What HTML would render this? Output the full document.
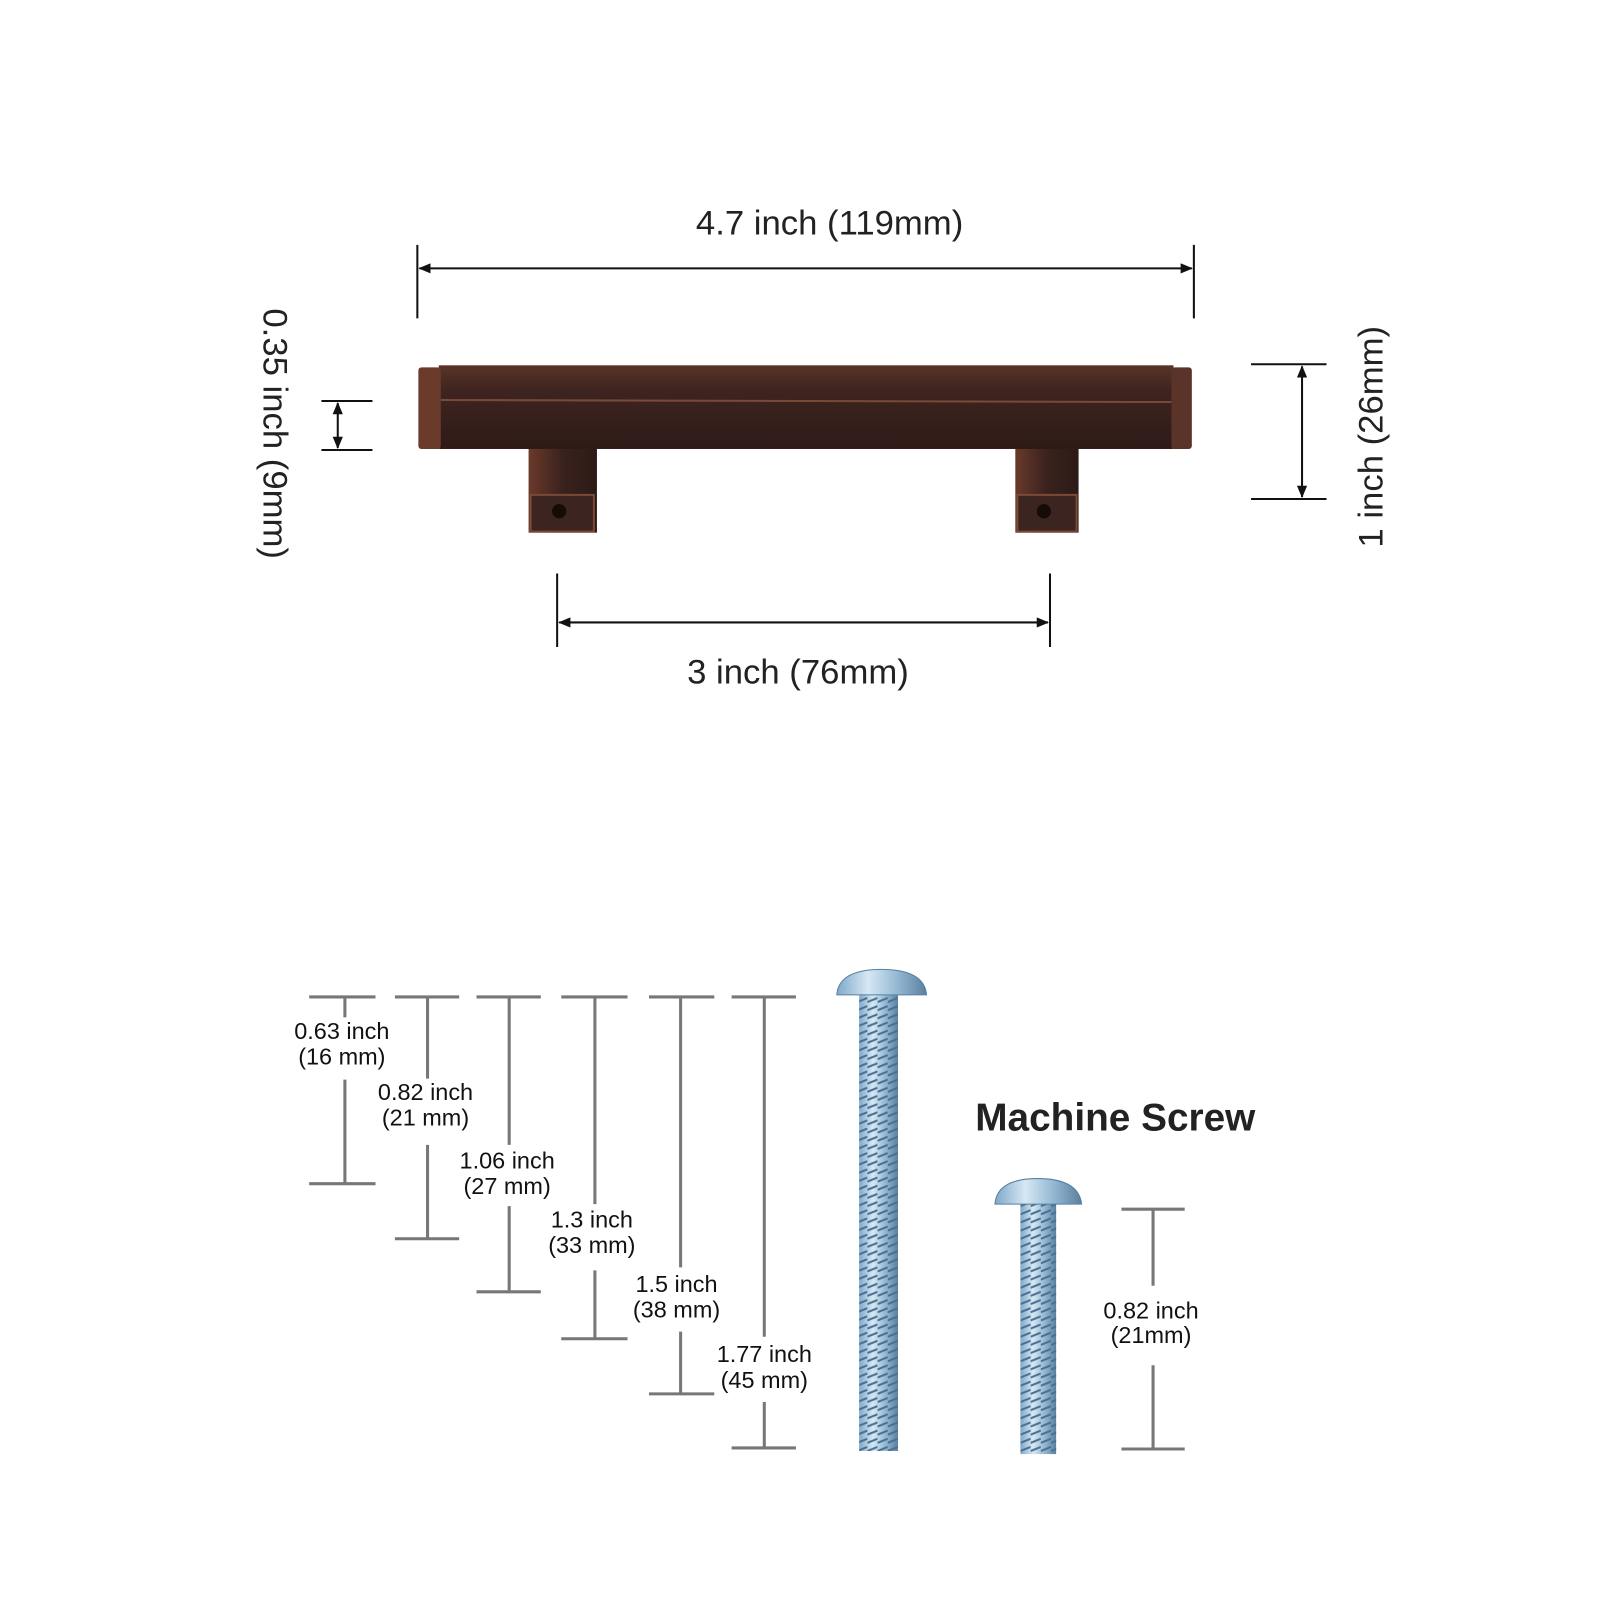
<!DOCTYPE html>
<html><head><meta charset="utf-8"><style>
html,body{margin:0;padding:0;background:#fff;}
svg{display:block;}
text{font-family:"Liberation Sans","DejaVu Sans",sans-serif;}
</style></head><body>
<svg width="1600" height="1600" viewBox="0 0 1568 1568" xmlns="http://www.w3.org/2000/svg">
<defs>
<linearGradient id="br" x1="0" y1="0" x2="0" y2="1">
<stop offset="0" stop-color="#5a3428"/><stop offset="0.3" stop-color="#3e2420"/><stop offset="1" stop-color="#2e1a17"/></linearGradient>
<linearGradient id="leg" x1="0" y1="0" x2="1" y2="0">
<stop offset="0" stop-color="#6a3a2a"/><stop offset="0.5" stop-color="#3a221e"/><stop offset="1" stop-color="#2c1a17"/></linearGradient>
<linearGradient id="zn" x1="0" y1="0" x2="1" y2="0">
<stop offset="0" stop-color="#7fa8c8"/><stop offset="0.35" stop-color="#d6e8f4"/><stop offset="0.7" stop-color="#8fb4d0"/><stop offset="1" stop-color="#5a80a0"/></linearGradient>
<pattern id="thr" width="10" height="8" patternUnits="userSpaceOnUse">
<rect width="10" height="8" fill="none"/><path d="M0 6 L10 2" stroke="#4a6f8f" stroke-width="2"/></pattern>
<marker id="ah" markerWidth="12" markerHeight="10" refX="11" refY="5" orient="auto-start-reverse" markerUnits="userSpaceOnUse">
<path d="M0 0 L12 5 L0 10 Z" fill="#111"/></marker>
</defs>

<!-- top dims -->
<line x1="409" y1="240" x2="409" y2="312" stroke="#111" stroke-width="2"/>
<line x1="1170" y1="240" x2="1170" y2="312" stroke="#111" stroke-width="2"/>
<line x1="411" y1="263" x2="1168" y2="263" stroke="#111" stroke-width="2" marker-start="url(#ah)" marker-end="url(#ah)"/>
<text x="813" y="230" font-size="34" text-anchor="middle" fill="#222">4.7 inch (119mm)</text>

<line x1="546" y1="562" x2="546" y2="634" stroke="#111" stroke-width="2"/>
<line x1="1029" y1="562" x2="1029" y2="634" stroke="#111" stroke-width="2"/>
<line x1="548" y1="610" x2="1027" y2="610" stroke="#111" stroke-width="2" marker-start="url(#ah)" marker-end="url(#ah)"/>
<text x="782" y="670" font-size="34" text-anchor="middle" fill="#222">3 inch (76mm)</text>

<line x1="1226" y1="357" x2="1300" y2="357" stroke="#111" stroke-width="2"/>
<line x1="1226" y1="489" x2="1300" y2="489" stroke="#111" stroke-width="2"/>
<line x1="1276" y1="359" x2="1276" y2="487" stroke="#111" stroke-width="2" marker-start="url(#ah)" marker-end="url(#ah)"/>
<text transform="translate(1355,428) rotate(-90)" font-size="34" text-anchor="middle" fill="#222">1 inch (26mm)</text>

<line x1="315" y1="393" x2="365" y2="393" stroke="#111" stroke-width="2"/>
<line x1="315" y1="441" x2="365" y2="441" stroke="#111" stroke-width="2"/>
<line x1="331" y1="395" x2="331" y2="439" stroke="#111" stroke-width="2" marker-start="url(#ah)" marker-end="url(#ah)"/>
<text transform="translate(258,425) rotate(90)" font-size="34" text-anchor="middle" fill="#222">0.35 inch (9mm)</text>

<!-- handle -->
<rect x="518" y="400" width="67" height="122" fill="url(#leg)"/>
<rect x="995" y="400" width="62" height="122" fill="url(#leg)"/>
<rect x="520" y="485" width="62" height="36" fill="#3c2420" stroke="#7a4a34" stroke-width="2"/>
<rect x="997" y="485" width="58" height="36" fill="#3c2420" stroke="#7a4a34" stroke-width="2"/>
<circle cx="548" cy="501" r="7" fill="#150c0a"/>
<circle cx="1023" cy="501" r="7" fill="#150c0a"/>
<rect x="430" y="358" width="720" height="82" fill="url(#br)"/>
<rect x="410" y="360" width="22" height="80" rx="3" fill="#6a3a2a"/>
<rect x="1148" y="360" width="20" height="80" rx="3" fill="#5a3428"/>
<line x1="432" y1="392" x2="1148" y2="394" stroke="#7a4a38" stroke-width="2"/>

<!-- screw gauges -->
<g stroke="#777" stroke-width="3" fill="none">
<path d="M303 977H368M338 977V997M338 1058V1160M303 1160H368"/>
<path d="M387 977H450M419 977V1057M419 1122V1214M387 1214H450"/>
<path d="M467 977H530M499 977V1122M499 1182V1266M467 1266H530"/>
<path d="M550 977H615M583 977V1180M583 1245V1312M550 1312H615"/>
<path d="M636 977H700M667 977V1242M667 1305V1366M636 1366H700"/>
<path d="M717 977H780M749 977V1310M749 1374V1419M717 1419H780"/>
<path d="M1099 1185H1161M1130 1185V1260M1130 1338V1420M1099 1420H1161"/>
</g>
<g font-size="23" fill="#111" text-anchor="middle">
<text x="335" y="1018">0.63 inch</text><text x="335" y="1043">(16 mm)</text>
<text x="417" y="1078">0.82 inch</text><text x="417" y="1103">(21 mm)</text>
<text x="497" y="1145">1.06 inch</text><text x="497" y="1170">(27 mm)</text>
<text x="580" y="1203">1.3 inch</text><text x="580" y="1228">(33 mm)</text>
<text x="663" y="1266">1.5 inch</text><text x="663" y="1291">(38 mm)</text>
<text x="749" y="1335">1.77 inch</text><text x="749" y="1360">(45 mm)</text>
<text x="1128" y="1292">0.82 inch</text><text x="1128" y="1316">(21mm)</text>
</g>
<text x="1093" y="1108" font-size="38" font-weight="bold" fill="#222" text-anchor="middle">Machine Screw</text>

<!-- screws -->
<rect x="842" y="975" width="38" height="447" fill="url(#zn)"/>
<rect x="842" y="975" width="38" height="447" fill="url(#thr)"/>
<path d="M820 975 Q822 950 864 950 Q906 950 908 975 Z" fill="url(#zn)" stroke="#5a80a0"/>
<rect x="1000" y="1180" width="35" height="245" fill="url(#zn)"/>
<rect x="1000" y="1180" width="35" height="245" fill="url(#thr)"/>
<path d="M975 1180 Q977 1155 1017 1155 Q1057 1155 1060 1180 Z" fill="url(#zn)" stroke="#5a80a0"/>
</svg>
</body></html>
